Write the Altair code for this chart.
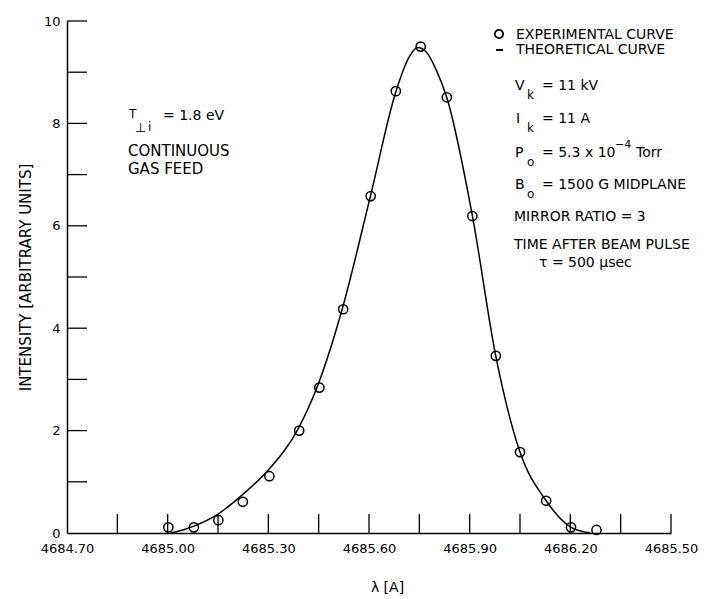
import altair as alt
import pandas as pd

# ---- data ----
exp_lambda = [4685.002, 4685.078, 4685.151, 4685.224, 4685.303, 4685.392, 4685.452,
              4685.523, 4685.605, 4685.680, 4685.754, 4685.832, 4685.908, 4685.978,
              4686.050, 4686.128, 4686.202, 4686.278]
exp_intensity = [0.11, 0.11, 0.25, 0.61, 1.11, 2.00, 2.84, 4.37, 6.58, 8.63, 9.50,
                 8.51, 6.19, 3.46, 1.58, 0.63, 0.11, 0.06]

theory_lambda = [4685.01, 4685.05, 4685.08, 4685.15, 4685.225, 4685.30, 4685.39,
                 4685.45, 4685.52, 4685.605, 4685.68, 4685.72, 4685.745, 4685.77,
                 4685.80, 4685.832, 4685.908, 4685.978, 4686.05, 4686.128, 4686.20,
                 4686.26]
theory_intensity = [0.0, 0.07, 0.14, 0.37, 0.76, 1.23, 2.05, 2.93, 4.37, 6.6, 8.62,
                    9.3, 9.48, 9.4, 9.05, 8.5, 6.2, 3.45, 1.58, 0.63, 0.12, 0.0]

x_label_values = [4684.70, 4685.00, 4685.30, 4685.60, 4685.90, 4686.20, 4686.50]
x_label_texts = ["4684.70", "4685.00", "4685.30", "4685.60", "4685.90", "4686.20", "4685.50"]
x_minor_ticks = [4684.85, 4685.00, 4685.15, 4685.30, 4685.45, 4685.60, 4685.75,
                 4685.90, 4686.05, 4686.20, 4686.35, 4686.50]
y_label_values = [0, 2, 4, 6, 8, 10]
y_minor_ticks = [1, 2, 3, 4, 5, 6, 7, 8, 9, 10]

FONT = "DejaVu Sans"
W, H = 604, 512

exp_df = pd.DataFrame({"lam": exp_lambda, "I": exp_intensity})
th_df = pd.DataFrame({"lam": theory_lambda, "I": theory_intensity})
xt_df = pd.DataFrame({"lam": x_minor_ticks})
yt_df = pd.DataFrame({"I": y_minor_ticks})
one = pd.DataFrame({"k": [0]})

label_expr = " : ".join(
    f"abs(datum.value - {v}) < 0.01 ? '{t}'" for v, t in zip(x_label_values, x_label_texts)
) + " : ''"

xscale = alt.Scale(domain=[4684.70, 4686.50], nice=False, zero=False)
yscale = alt.Scale(domain=[0, 10], nice=False)

X_AXIS = alt.Axis(values=x_label_values, labelExpr=label_expr, ticks=False,
                  labelPadding=9, labelFontSize=13, title="λ [A]",
                  titleFontSize=14, titleFontWeight="normal", titleX=320, titleY=54,
                  titleAlign="center", titleBaseline="middle", labelFlush=False)
Y_AXIS = alt.Axis(values=y_label_values, ticks=False, labelPadding=7, labelFontSize=13,
                  title="INTENSITY [ARBITRARY UNITS]", titleFontSize=15,
                  titleFontWeight="normal", titleX=-42, titleY=256, titleAlign="center",
                  titleBaseline="middle", labelFlush=False)

X = alt.X("lam:Q", scale=xscale, axis=X_AXIS)
Y = alt.Y("I:Q", scale=yscale, axis=Y_AXIS)

curve = alt.Chart(th_df).mark_line(color="black", strokeWidth=1.5,
                                   interpolate="monotone").encode(x=X, y=Y)
points = alt.Chart(exp_df).mark_point(shape="circle", filled=False, size=85,
                                      color="black", strokeWidth=1.5,
                                      opacity=1).encode(x=X, y=Y)
xticks = alt.Chart(xt_df).mark_rule(color="black", strokeWidth=1.3).encode(
    x=X, y=alt.value(H), y2=alt.value(H - 19))
yticks = alt.Chart(yt_df).mark_rule(color="black", strokeWidth=1.3).encode(
    y=Y, x=alt.value(0), x2=alt.value(20))


def label(txt, x, y, size=14, align="left"):
    return alt.Chart(one).mark_text(align=align, baseline="middle", font=FONT,
                                    fontSize=size, color="black").encode(
        x=alt.value(x), y=alt.value(y), text=alt.value(txt))


legend_circle = alt.Chart(one).mark_point(shape="circle", filled=False, size=70,
                                          color="black", strokeWidth=1.8,
                                          opacity=1).encode(
    x=alt.value(432), y=alt.value(13))
legend_dash = alt.Chart(one).mark_rule(color="black", strokeWidth=2).encode(
    x=alt.value(429), x2=alt.value(436), y=alt.value(29))

texts = [
    label("EXPERIMENTAL CURVE", 449, 14),
    label("THEORETICAL CURVE", 449, 29),
    label("V", 448, 65), label("k", 460, 74, 12), label("= 11 kV", 475, 65),
    label("I", 449, 98), label("k", 460, 107, 12), label("= 11 A", 475, 98),
    label("P", 448, 132), label("o", 460, 141, 12), label("= 5.3 x 10", 475, 132),
    label("−4", 548, 124, 11), label("Torr", 569, 132),
    label("B", 448, 164), label("o", 460, 173, 12), label("= 1500 G MIDPLANE", 475, 164),
    label("MIRROR RATIO = 3", 447, 196),
    label("TIME AFTER BEAM PULSE", 447, 224),
    label("τ = 500 μsec", 472, 242),
    label("T", 62, 93, 12), label("⊥", 68, 107, 13), label("i", 81, 106, 12),
    label("= 1.8 eV", 96, 95, 14),
    label("CONTINUOUS", 61, 130, 15),
    label("GAS FEED", 61, 148, 15),
]

chart = alt.layer(curve, points, xticks, yticks, legend_circle, legend_dash, *texts).properties(
    width=W, height=H,
    autosize=alt.AutoSizeParams(type="none"),
    padding={"left": 59, "top": 13, "right": 28, "bottom": 63},
).configure_view(stroke=None).configure_axis(
    grid=False, domainColor="black", domainWidth=1.5, labelColor="black",
    titleColor="black", labelFont=FONT, titleFont=FONT,
).configure_text(font=FONT)

chart.save("out.html", embed_options={"renderer": "svg", "actions": False})
